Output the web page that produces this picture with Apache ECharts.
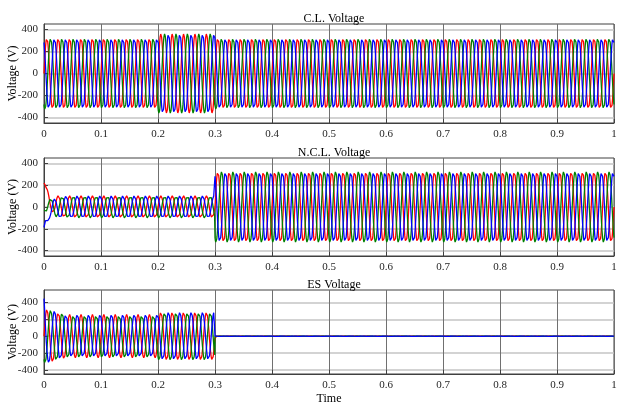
<!DOCTYPE html>
<html>
<head>
<meta charset="utf-8">
<script src="https://cdn.jsdelivr.net/npm/echarts@6/dist/echarts.min.js"></script>
<style>
  html, body { margin: 0; padding: 0; background: #fff; }
  #chart { width: 622px; height: 403px; }
</style>
</head>
<body>
<div id="chart"></div>
<script>
// tick labels
const timeTicks = [0, 0.1, 0.2, 0.3, 0.4, 0.5, 0.6, 0.7, 0.8, 0.9, 1];
const voltageTicks = [-400, -200, 0, 200, 400];
const panelTitles = ['C.L. Voltage', 'N.C.L. Voltage', 'ES Voltage'];

// three phases, 50 Hz
const phaseNames = ['Va', 'Vb', 'Vc'];
const phaseShiftDeg = [0, -120, 120];
const frequencyHz = 50;
const sampleStep = 0.00025;

// peak voltage envelopes (time, amplitude) per panel
const clEnvTime = [0, 0.2, 0.2, 0.3, 0.3, 1];
const clEnvAmp = [325, 325, 360, 360, 325, 325];
const nclEnvTime = [0, 0.02, 0.04, 0.3, 0.3, 1];
const nclEnvAmp = [60, 90, 102, 102, 325, 325];
const esEnvTime = [0, 0.012, 0.04, 0.2, 0.2, 0.3, 0.3, 1];
const esEnvAmp = [320, 310, 258, 258, 285, 285, 2, 2];

// start-up offsets per phase (Va, Vb, Vc)
const nclOffTime = [0, 0.004, 0.01, 0.02, 0.04];
const nclOffVa = [220, 110, 50, 15, 0];
const nclOffVb = [20, 10, 0, 0, 0];
const nclOffVc = [-240, -90, -30, -10, 0];
const esOffTime = [0, 0.002, 0.004];
const esOffVa = [0, 0, 0];
const esOffVb = [0, 0, 0];
const esOffVc = [170, 50, 0];

const phaseColors = ['#ff0000', '#008000', '#0000ff'];

function envAt(ts, vs, t) {
  if (t <= ts[0]) return vs[0];
  for (let i = ts.length - 1; i > 0; i--) {
    if (t >= ts[i - 1] && t < ts[i]) {
      const span = ts[i] - ts[i - 1];
      if (span === 0) return vs[i];
      return vs[i - 1] + (vs[i] - vs[i - 1]) * (t - ts[i - 1]) / span;
    }
  }
  return vs[vs.length - 1];
}

function wave(envT, envA, offT, offs) {
  const n = Math.round(1 / sampleStep);
  return phaseShiftDeg.map((deg, p) => {
    const pts = [];
    for (let k = 0; k <= n; k++) {
      const t = +(k * sampleStep).toFixed(5);
      let v = envAt(envT, envA, t) * Math.sin(2 * Math.PI * frequencyHz * t + deg * Math.PI / 180);
      if (offT) v += envAt(offT, offs[p], t);
      pts.push([t, v]);
    }
    return pts;
  });
}

const panels = [
  wave(clEnvTime, clEnvAmp, null, null),
  wave(nclEnvTime, nclEnvAmp, nclOffTime, [nclOffVa, nclOffVb, nclOffVc]),
  wave(esEnvTime, esEnvAmp, esOffTime, [esOffVa, esOffVb, esOffVc])
];

const gridBoxes = [
  { left: 44, top: 24, width: 570, height: 99 },
  { left: 44, top: 158, width: 570, height: 98 },
  { left: 44, top: 290, width: 570, height: 84 }
];
const yRanges = [[-450, 450], [-450, 450], [-450, 550]];
const titleTops = [8, 142, 274];
const font = 'Liberation Serif';

const chart = echarts.init(document.getElementById('chart'), null, { renderer: 'canvas' });

const option = {
  animation: false,
  backgroundColor: '#fff',
  title: panelTitles.map((txt, i) => ({
    text: txt,
    left: 329,
    top: titleTops[i],
    textAlign: 'center',
    textStyle: { fontFamily: font, fontWeight: 'normal', fontSize: 12, color: '#000' }
  })),
  grid: gridBoxes.map(g => ({
    ...g, containLabel: false, outerBoundsMode: 'none',
    show: true, borderColor: '#404040', borderWidth: 1, backgroundColor: 'transparent'
  })),
  xAxis: gridBoxes.map((g, i) => ({
    type: 'value',
    gridIndex: i,
    min: 0,
    max: 1,
    interval: 0.1,
    name: i === 2 ? 'Time' : '',
    nameLocation: 'middle',
    nameGap: 19,
    nameMoveOverlap: false,
    nameTextStyle: { fontFamily: font, fontSize: 12, color: '#000' },
    axisLine: { show: true, onZero: false, lineStyle: { color: '#404040' } },
    axisTick: { inside: true, length: 4, lineStyle: { color: '#404040' } },
    axisLabel: {
      fontFamily: font, fontSize: 11, color: '#262626', margin: 6,
      formatter: v => String(+v.toFixed(1))
    },
    splitLine: { show: true, lineStyle: { color: '#707070', width: 1 } }
  })),
  yAxis: gridBoxes.map((g, i) => ({
    type: 'value',
    gridIndex: i,
    min: yRanges[i][0],
    max: yRanges[i][1],
    name: 'Voltage (V)',
    nameLocation: 'middle',
    nameGap: 25,
    nameMoveOverlap: false,
    nameTextStyle: { fontFamily: font, fontSize: 12, color: '#000' },
    axisLine: { show: true, onZero: false, lineStyle: { color: '#404040' } },
    axisTick: { inside: true, length: 4, customValues: voltageTicks, lineStyle: { color: '#404040' } },
    axisLabel: { fontFamily: font, fontSize: 11, color: '#262626', margin: 6, customValues: voltageTicks },
    splitLine: { show: true, lineStyle: { color: '#c4c4c4', width: 1.5 } }
  })),
  series: panels.flatMap((phases, i) => phases.map((pts, p) => ({
    name: phaseNames[p],
    type: 'line',
    xAxisIndex: i,
    yAxisIndex: i,
    data: pts,
    showSymbol: false,
    symbol: 'none',
    clip: true,
    lineStyle: { color: phaseColors[p], width: 1.3 },
    z: 2 + p
  })))
};

chart.setOption(option);
</script>
</body>
</html>
